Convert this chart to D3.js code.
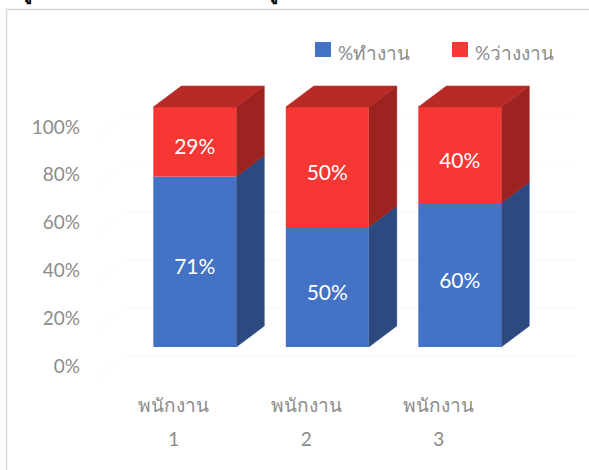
<!DOCTYPE html>
<html>
<head>
<meta charset="utf-8">
<script src="https://cdn.jsdelivr.net/npm/d3@7"></script>
<style>
  html, body { margin: 0; padding: 0; background: #fff; }
  svg { display: block; }
  text { font-family: "Lato", "Noto Sans", "DejaVu Sans", sans-serif; }
</style>
</head>
<body>
<div id="chart"></div>
<script>
// ---- data ----
const categories = ["พนักงาน 1", "พนักงาน 2", "พนักงาน 3"];
const seriesNames = ["%ทำงาน", "%ว่างงาน"];
const working = [0.71, 0.50, 0.60];
const unemployed = [0.29, 0.50, 0.40];
const tickValues = [0, 0.2, 0.4, 0.6, 0.8, 1.0];

// ---- layout ----
const W = 589, H = 470;
const depthX = 28, depthY = 21;
const frontColors = ["#4472C4", "#F63733"];
const sideColors  = ["#2C4A80", "#9C2320"];
const topColors   = ["#2F5597", "#B92A27"];
const textGray = "#8c8c8c";

const svg = d3.select("#chart").append("svg").attr("width", W).attr("height", H);

// chart border
svg.append("rect").attr("x", 6.5).attr("y", 9.5).attr("width", 700).attr("height", 600)
  .attr("fill", "#fff").attr("stroke", "#d9d9d9").attr("stroke-width", 1.5);

// clipped title fragments above the chart
svg.append("text").attr("x", 20).attr("y", -1).attr("font-size", 18).attr("font-weight", "bold")
  .attr("fill", "#000").text("ดู");
svg.append("text").attr("x", 266).attr("y", -1).attr("font-size", 18).attr("font-weight", "bold")
  .attr("fill", "#000").text("ดู");

const y = d3.scaleLinear().domain([0, 1]).range([347, 107]);
const yLabel = d3.scaleLinear().domain([0, 1]).range([366, 127]);
const x = d3.scaleBand().domain(categories).range([153.3, 501.3]).paddingInner(0.3736).paddingOuter(0);

// very faint back/side wall gridlines
const grid = svg.append("g");
tickValues.forEach(v => {
  const yb = yLabel(v) - 10;
  grid.append("line").attr("x1", 125).attr("x2", 575).attr("y1", yb).attr("y2", yb)
    .attr("stroke", "#f8f8f8").attr("stroke-width", 1);
  grid.append("line").attr("x1", 97).attr("x2", 125).attr("y1", yb + 21).attr("y2", yb)
    .attr("stroke", "#f8f8f8").attr("stroke-width", 1);
});

// y axis labels
const yAxis = d3.axisLeft(yLabel).tickValues(tickValues).tickSize(0).tickPadding(0)
  .tickFormat(d3.format(".0%"));
const gy = svg.append("g").attr("transform", "translate(80,0)").call(yAxis);
gy.select(".domain").remove();
gy.selectAll("text").attr("fill", textGray).attr("font-size", 19)
  .attr("font-family", "Lato, 'Noto Sans', sans-serif");

// bars
const fmt = d3.format(".0%");
categories.forEach((c, i) => {
  const x0 = x(c), x1 = x0 + x.bandwidth();
  const segs = [[0, working[i]], [working[i], working[i] + unemployed[i]]];
  const g = svg.append("g");
  segs.forEach((s, k) => {
    const yb = y(s[0]), yt = y(s[1]);
    g.append("path")
      .attr("d", `M${x1},${yb} L${x1},${yt} L${x1 + depthX},${yt - depthY} L${x1 + depthX},${yb - depthY} Z`)
      .attr("fill", sideColors[k]).attr("stroke", sideColors[k]).attr("stroke-width", 0.5);
    g.append("rect").attr("x", x0).attr("y", yt).attr("width", x1 - x0).attr("height", yb - yt)
      .attr("fill", frontColors[k]);
    if (k === segs.length - 1) {
      g.append("path")
        .attr("d", `M${x0},${yt} L${x1},${yt} L${x1 + depthX},${yt - depthY} L${x0 + depthX},${yt - depthY} Z`)
        .attr("fill", topColors[k]).attr("stroke", topColors[k]).attr("stroke-width", 0.5);
    }
  });
  segs.forEach((s, k) => {
    const v = k === 0 ? working[i] : unemployed[i];
    g.append("text").attr("x", (x0 + x1) / 2).attr("y", (y(s[0]) + y(s[1])) / 2 + 4)
      .attr("text-anchor", "middle").attr("dominant-baseline", "central")
      .attr("fill", "#fff").attr("font-size", 21).text(fmt(v));
  });
});

// category labels
categories.forEach(c => {
  const cx = x(c) + x.bandwidth() / 2 - 21;
  const parts = c.split(" ");
  const t = svg.append("text").attr("text-anchor", "middle").attr("fill", textGray).attr("font-size", 19);
  t.append("tspan").attr("x", cx).attr("y", 412).text(parts[0]);
  t.append("tspan").attr("x", cx).attr("y", 446).text(parts[1]);
});

// legend
const legendX = [315, 452];
seriesNames.forEach((n, k) => {
  svg.append("rect").attr("x", legendX[k]).attr("y", 42).attr("width", 16).attr("height", 15)
    .attr("fill", frontColors[k]);
  svg.append("text").attr("x", legendX[k] + 23).attr("y", 60).attr("fill", textGray)
    .attr("font-size", 19).text(n);
});
</script>
</body>
</html>
